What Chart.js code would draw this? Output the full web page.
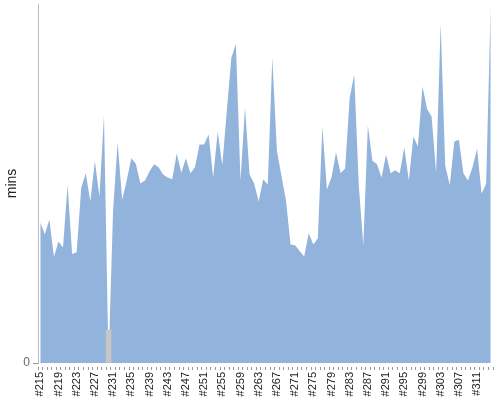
<!DOCTYPE html>
<html>
<head>
<meta charset="utf-8">
<script src="https://cdn.jsdelivr.net/npm/chart.js@4.4.0/dist/chart.umd.min.js"></script>
<style>
  html, body { margin: 0; padding: 0; background: #fff; }
  #wrap { width: 500px; height: 400px; }
</style>
</head>
<body>
<div id="wrap"><canvas id="buildTimeChart"></canvas></div>
<script>
// Build numbers (x categories)
const buildLabels = [
  '#215', '#216', '#217', '#218', '#219', '#220', '#221', '#222', '#223', '#224',
  '#225', '#226', '#227', '#228', '#229', '#230', '#231', '#232', '#233', '#234',
  '#235', '#236', '#237', '#238', '#239', '#240', '#241', '#242', '#243', '#244',
  '#245', '#246', '#247', '#248', '#249', '#250', '#251', '#252', '#253', '#254',
  '#255', '#256', '#257', '#258', '#259', '#260', '#261', '#262', '#263', '#264',
  '#265', '#266', '#267', '#268', '#269', '#270', '#271', '#272', '#273', '#274',
  '#275', '#276', '#277', '#278', '#279', '#280', '#281', '#282', '#283', '#284',
  '#285', '#286', '#287', '#288', '#289', '#290', '#291', '#292', '#293', '#294',
  '#295', '#296', '#297', '#298', '#299', '#300', '#301', '#302', '#303', '#304',
  '#305', '#306', '#307', '#308', '#309', '#310', '#311', '#312', '#313', '#314'
];

// Build duration in minutes
const buildMins = [
  23.5, 21.5, 24.0, 17.7, 20.3, 19.3, 29.8, 18.2, 18.5, 29.3,
  31.7, 27.0, 33.7, 27.8, 41.3, 0.0, 25.5, 36.8, 27.3, 30.5,
  34.2, 33.3, 30.0, 30.5, 32.0, 33.2, 32.7, 31.5, 31.0, 30.7,
  35.0, 31.8, 34.2, 31.7, 32.7, 36.5, 36.5, 38.2, 31.0, 38.7,
  33.0, 42.2, 51.0, 53.3, 30.5, 42.7, 31.5, 30.0, 27.0, 30.7,
  29.8, 51.0, 35.5, 31.3, 27.2, 19.8, 19.7, 18.7, 17.8, 21.7,
  19.8, 20.8, 39.5, 29.0, 31.0, 35.2, 31.7, 32.5, 44.3, 48.2,
  29.7, 19.7, 39.7, 33.8, 33.2, 31.0, 34.8, 31.7, 32.2, 31.7,
  36.0, 30.5, 37.8, 36.2, 46.2, 42.5, 41.2, 31.8, 56.7, 33.0,
  29.7, 37.0, 37.3, 31.7, 30.5, 32.7, 35.8, 28.3, 30.0, 60.0
];

// Gray marker on the failed build
const markerBuild = '#230';
const markerMins = 5.5;

const yMax = 60;

Chart.defaults.font.family = "'Liberation Sans', Arial, sans-serif";

// drop the extra room Chart.js keeps for the outer tick labels
function noScalePadding(scale) {
  scale.paddingTop = 0;
  scale.paddingBottom = 0;
  scale.paddingLeft = 0;
  scale.paddingRight = 0;
}

const ctx = document.getElementById('buildTimeChart');

new Chart(ctx, {
  data: {
    labels: buildLabels,
    datasets: [
      {
        type: 'bar',
        data: [{ x: markerBuild, y: markerMins }],
        backgroundColor: '#c6c6c6',
        barThickness: 5,
        order: 0,
      },
      {
        type: 'line',
        data: buildMins,
        fill: 'origin',
        backgroundColor: '#91b3dc',
        borderWidth: 0,
        pointRadius: 0,
        tension: 0,
        order: 1,
      }
    ]
  },
  options: {
    responsive: true,
    maintainAspectRatio: false,
    animation: false,
    layout: {
      padding: { top: 4, right: 7, left: 0, bottom: 0 }
    },
    plugins: {
      legend: { display: false },
      tooltip: { enabled: false }
    },
    scales: {
      x: {
        type: 'category',
        offset: true,
        border: { display: false },
        grid: {
          drawOnChartArea: false,
          tickLength: 7,
          color: '#999',
          tickBorderDash: [0, 4, 3, 0],
        },
        ticks: {
          autoSkip: false,
          minRotation: 90,
          maxRotation: 90,
          padding: 2,
          color: '#222',
          font: { size: 11 },
          callback: function(value, index) {
            return index % 4 === 0 ? this.getLabelForValue(value) : '';
          }
        },
        afterFit: function(scale) {
          scale.height = 37;
          noScalePadding(scale);
        }
      },
      y: {
        min: 0,
        max: yMax,
        border: { display: true, color: '#bbb' },
        grid: {
          drawOnChartArea: false,
          tickLength: 5,
          color: '#999',
        },
        ticks: {
          stepSize: yMax,
          padding: 3,
          color: '#666',
          font: { size: 12 },
          callback: function(value) {
            return value === 0 ? '0' : null;
          }
        },
        title: {
          display: true,
          text: 'mins',
          color: '#222',
          font: { size: 14 },
          padding: { top: 4, bottom: 0 }
        },
        afterFit: function(scale) {
          scale.width = 38;
          noScalePadding(scale);
        }
      }
    }
  }
});
</script>
</body>
</html>
